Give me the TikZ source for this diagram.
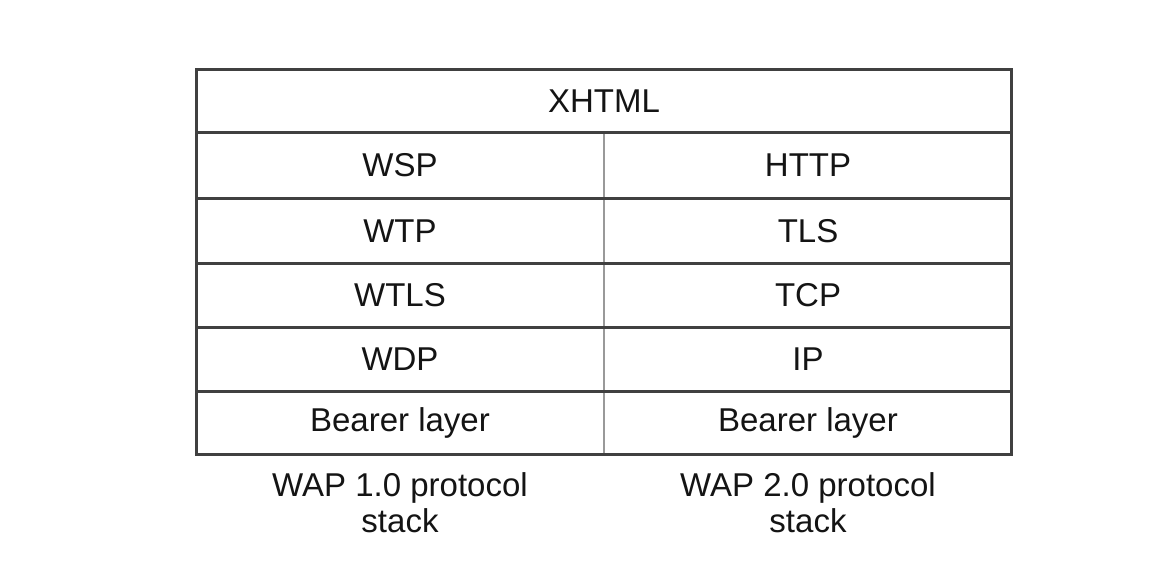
\documentclass[tikz,border=0pt]{standalone}
\usepackage{fontspec}
\setmainfont{Liberation Sans}
\begin{document}
\begin{tikzpicture}[x=1pt,y=-1pt,
  rule/.style={draw=black!75,line width=3pt},
  divider/.style={draw=black!40,line width=2.6pt},
  cell/.style={font=\fontsize{33}{37}\selectfont,text=black!92,inner sep=0pt,anchor=center},
  caption/.style={font=\fontsize{33}{36}\selectfont,text=black!92,align=center,inner sep=0pt}]
\useasboundingbox[fill=white] (0,0) rectangle (1172,573);
% column divider
\coordinate (dtop) at (604,132);
\coordinate (dbot) at (604,454);
\draw[divider] (dtop) -- (dbot);
% horizontal rules
\foreach \y in {132,198,263,327,391}
  \draw[rule] (196,\y) -- (1011,\y);
% outer frame
\draw[rule] (196,69) rectangle (1011,454);
% cells
\node[cell] (xhtml) at (604,101) {XHTML};
\node[cell] (wsp)  at (400,165) {WSP};
\node[cell] (wtp)  at (400,231) {WTP};
\node[cell] (wtls) at (400,295) {WTLS};
\node[cell] (wdp)  at (400,359) {WDP};
\node[cell] (bl1)  at (400,423) {Bearer layer};
\node[cell] (http) at (808,165) {HTTP};
\node[cell] (tls)  at (808,231) {TLS};
\node[cell] (tcp)  at (808,295) {TCP};
\node[cell] (ip)   at (808,359) {IP};
\node[cell] (bl2)  at (808,423) {Bearer layer};
% stack captions
\node[caption] (cap1) at (400,503) {WAP 1.0 protocol\\stack};
\node[caption] (cap2) at (808,503) {WAP 2.0 protocol\\stack};
\end{tikzpicture}
\end{document}
